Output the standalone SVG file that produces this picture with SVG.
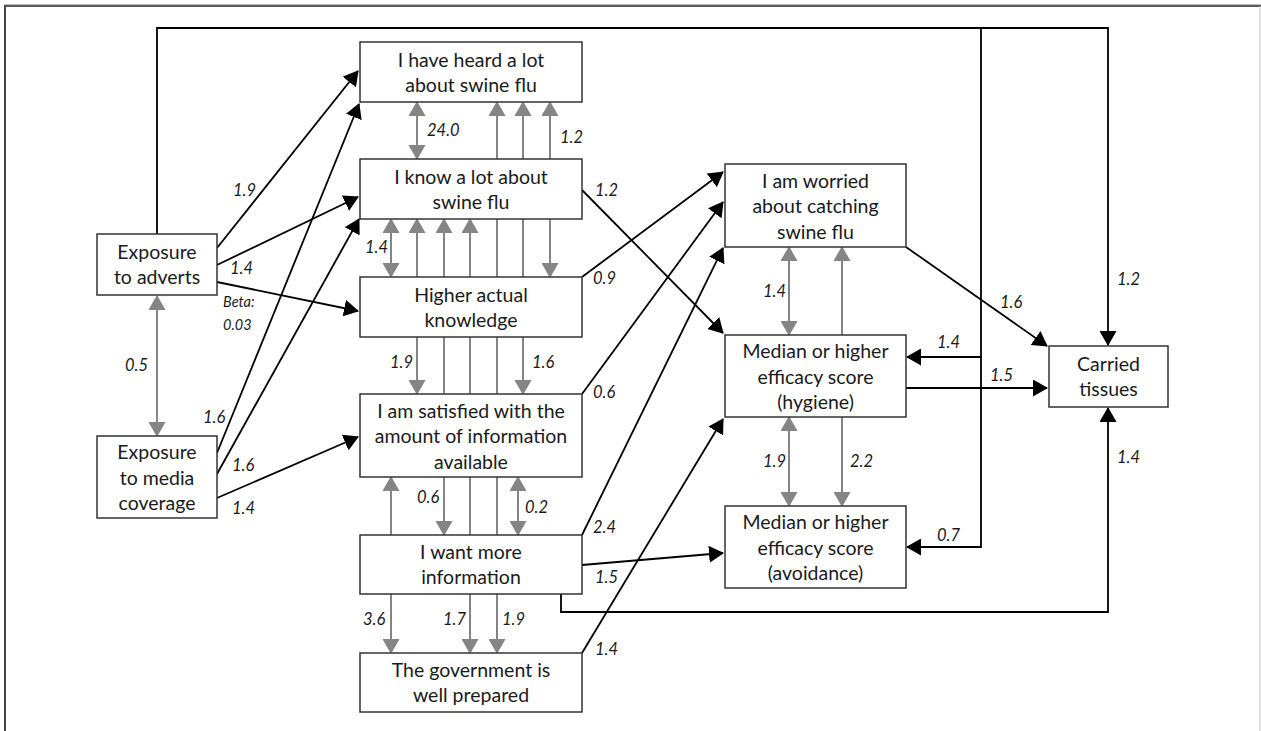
<svg xmlns="http://www.w3.org/2000/svg" width="1261" height="731" viewBox="0 0 1261 731">
<style>
.node rect{fill:#fff;stroke:#333;stroke-width:1.5}
.node text{font-family:Lato,"Open Sans","Liberation Sans",sans-serif;font-size:19.5px;fill:#1a1a1a;text-anchor:middle}
.lab{font-family:Lato,"Open Sans","Liberation Sans",sans-serif;font-size:16.5px;font-style:italic;fill:#1a1a1a}
.beta{font-size:14.5px}
.bl{fill:none;stroke:#000;stroke-width:1.8}
.gr{fill:none;stroke:#858585;stroke-width:2}
.bl.a{marker-end:url(#ab)}
.gr.a{marker-end:url(#ag)}
.gr.d{marker-start:url(#ag);marker-end:url(#ag)}
</style>
<defs>
<marker id="ab" viewBox="0 0 15 17" refX="14" refY="8.5" markerWidth="15" markerHeight="17" markerUnits="userSpaceOnUse" orient="auto-start-reverse"><path d="M0,0 L15,8.5 L0,17 z" fill="#000"/></marker>
<marker id="ag" viewBox="0 0 15 17" refX="14" refY="8.5" markerWidth="15" markerHeight="17" markerUnits="userSpaceOnUse" orient="auto-start-reverse"><path d="M0,0 L15,8.5 L0,17 z" fill="#858585"/></marker>
</defs>
<rect x="0" y="0" width="1261" height="731" fill="#fff"/>
<g id="frame">
<line x1="4" y1="4.5" x2="1261" y2="4.5" stroke="#bbb" stroke-width="1"/>
<line x1="4" y1="6" x2="1261" y2="6" stroke="#222" stroke-width="1.6"/>
<line x1="5" y1="6" x2="5" y2="731" stroke="#444" stroke-width="2"/>
<line x1="1260" y1="6" x2="1260" y2="731" stroke="#ccc" stroke-width="1.2"/>
</g>
<g id="connectors">
<line class="gr d" x1="417" y1="102" x2="417" y2="159"/>
<line class="gr d" x1="497" y1="653" x2="497" y2="102"/>
<line class="gr d" x1="523" y1="394" x2="523" y2="102"/>
<line class="gr d" x1="550" y1="277" x2="550" y2="102"/>
<line class="gr d" x1="391" y1="219" x2="391" y2="277"/>
<line class="gr d" x1="417" y1="394" x2="417" y2="219"/>
<line class="gr d" x1="444" y1="535" x2="444" y2="219"/>
<line class="gr d" x1="470" y1="653" x2="470" y2="219"/>
<line class="gr d" x1="391" y1="653" x2="391" y2="477"/>
<line class="gr d" x1="518" y1="477" x2="518" y2="535"/>
<line class="gr d" x1="157" y1="296" x2="157" y2="436"/>
<line class="gr d" x1="789" y1="247" x2="789" y2="335"/>
<line class="gr d" x1="789" y1="417" x2="789" y2="506"/>
<line class="gr d" x1="842" y1="506" x2="842" y2="247"/>
<line class="bl a" x1="217" y1="248" x2="358" y2="71"/>
<line class="bl a" x1="217" y1="265" x2="358" y2="197"/>
<line class="bl a" x1="217" y1="282" x2="358" y2="311"/>
<line class="bl a" x1="217" y1="453" x2="359" y2="104"/>
<line class="bl a" x1="217" y1="474" x2="359" y2="219"/>
<line class="bl a" x1="217" y1="498" x2="358" y2="437"/>
<line class="bl a" x1="582" y1="190" x2="723" y2="333"/>
<line class="bl a" x1="582" y1="277" x2="723" y2="172"/>
<line class="bl a" x1="582" y1="394" x2="723" y2="202"/>
<line class="bl a" x1="582" y1="535" x2="723" y2="248"/>
<line class="bl a" x1="582" y1="565" x2="723" y2="553"/>
<line class="bl a" x1="582" y1="653" x2="723" y2="419"/>
<line class="bl a" x1="906" y1="247" x2="1047" y2="346"/>
<line class="bl a" x1="906" y1="388" x2="1047" y2="388"/>
<path class="bl a" d="M157,234 V28 H1108 V345"/>
<path class="bl a" d="M981,28 V547 H907"/>
<path class="bl a" d="M981,357 H907"/>
<path class="bl a" d="M561,594 V612 H1108 V408"/>
</g>
<g id="labels">
<text class="lab" x="427" y="136">24.0</text>
<text class="lab" x="560" y="143">1.2</text>
<text class="lab" x="595" y="196">1.2</text>
<text class="lab" x="365" y="253">1.4</text>
<text class="lab" x="593" y="284">0.9</text>
<text class="lab" x="390" y="368">1.9</text>
<text class="lab" x="532" y="368">1.6</text>
<text class="lab" x="593" y="398">0.6</text>
<text class="lab" x="417" y="503">0.6</text>
<text class="lab" x="525" y="513">0.2</text>
<text class="lab" x="593" y="533">2.4</text>
<text class="lab" x="595" y="583">1.5</text>
<text class="lab" x="363" y="625">3.6</text>
<text class="lab" x="443" y="625">1.7</text>
<text class="lab" x="502" y="625">1.9</text>
<text class="lab" x="595" y="655">1.4</text>
<text class="lab" x="233" y="196">1.9</text>
<text class="lab" x="230" y="274">1.4</text>
<text class="lab beta" x="223" y="307">Beta:</text>
<text class="lab beta" x="223" y="330">0.03</text>
<text class="lab" x="125" y="371">0.5</text>
<text class="lab" x="203" y="423">1.6</text>
<text class="lab" x="232" y="471">1.6</text>
<text class="lab" x="232" y="514">1.4</text>
<text class="lab" x="763" y="297">1.4</text>
<text class="lab" x="1000" y="308">1.6</text>
<text class="lab" x="937" y="348">1.4</text>
<text class="lab" x="990" y="381">1.5</text>
<text class="lab" x="763" y="467">1.9</text>
<text class="lab" x="850" y="467">2.2</text>
<text class="lab" x="937" y="541">0.7</text>
<text class="lab" x="1117" y="285">1.2</text>
<text class="lab" x="1117" y="463">1.4</text>
</g>
<g id="n-heard" class="node"><rect x="360" y="42" width="222" height="60"/><text x="471" y="67">I have heard a lot</text><text x="471" y="92">about swine flu</text></g>
<g id="n-know" class="node"><rect x="360" y="159" width="222" height="60"/><text x="471" y="184">I know a lot about</text><text x="471" y="209">swine flu</text></g>
<g id="n-higher" class="node"><rect x="360" y="277" width="222" height="60"/><text x="471" y="302">Higher actual</text><text x="471" y="327">knowledge</text></g>
<g id="n-satisfied" class="node"><rect x="360" y="394" width="222" height="83"/><text x="471" y="417.5">I am satisfied with the</text><text x="471" y="443">amount of information</text><text x="471" y="468.5">available</text></g>
<g id="n-want" class="node"><rect x="360" y="535" width="222" height="59"/><text x="471" y="559">I want more</text><text x="471" y="584">information</text></g>
<g id="n-gov" class="node"><rect x="360" y="653" width="222" height="59"/><text x="471" y="677">The government is</text><text x="471" y="702">well prepared</text></g>
<g id="n-adverts" class="node"><rect x="97" y="234" width="120" height="61"/><text x="157" y="259">Exposure</text><text x="157" y="284">to adverts</text></g>
<g id="n-media" class="node"><rect x="97" y="436" width="120" height="82"/><text x="157" y="459">Exposure</text><text x="157" y="484.5">to media</text><text x="157" y="510">coverage</text></g>
<g id="n-worried" class="node"><rect x="725" y="164" width="181" height="83"/><text x="815.5" y="187.5">I am worried</text><text x="815.5" y="213">about catching</text><text x="815.5" y="238.5">swine flu</text></g>
<g id="n-hygiene" class="node"><rect x="725" y="335" width="181" height="82"/><text x="815.5" y="358">Median or higher</text><text x="815.5" y="383.5">efficacy score</text><text x="815.5" y="409">(hygiene)</text></g>
<g id="n-avoid" class="node"><rect x="725" y="506" width="181" height="82"/><text x="815.5" y="529">Median or higher</text><text x="815.5" y="554.5">efficacy score</text><text x="815.5" y="580">(avoidance)</text></g>
<g id="n-tissues" class="node"><rect x="1049" y="346" width="119" height="61"/><text x="1108.5" y="371">Carried</text><text x="1108.5" y="396">tissues</text></g>
</svg>
